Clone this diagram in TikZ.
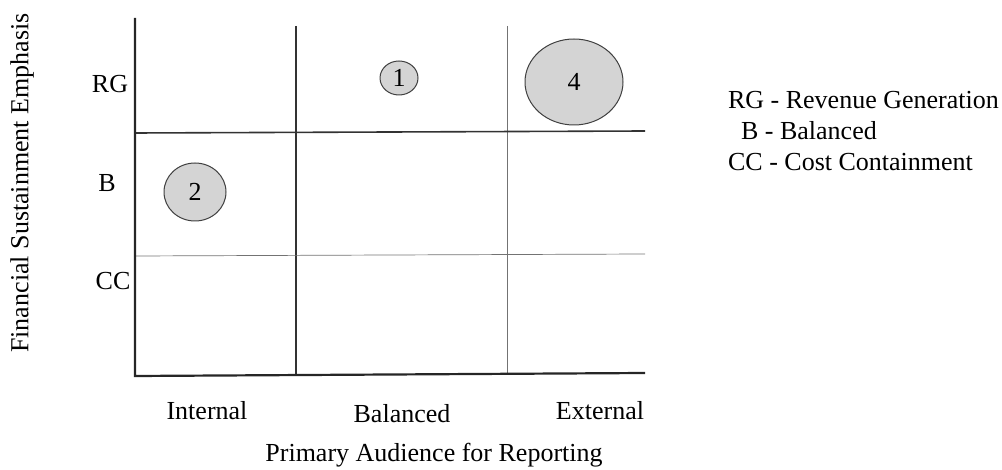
\documentclass[tikz,border=0pt]{standalone}
\usepackage{fontspec}
\setmainfont{Liberation Serif}
\usepackage{tikz}
\usetikzlibrary{shapes.geometric}

\begin{document}
\begin{tikzpicture}[x=0.5pt, y=-0.5pt,
    axis/.style={line width=1.1pt, color=black!85},
    gridthick/.style={line width=0.8pt, color=black!80},
    gridthin/.style={line width=0.35pt, color=black!55},
    bubble/.style={draw=black!75, ellipse, fill=black!17, line width=0.5pt, inner sep=0pt,
                   font=\fontsize{13}{15}\selectfont},
    label/.style={font=\fontsize{13}{15}\selectfont},
    legend/.style={font=\fontsize{13}{15}\selectfont, anchor=west}
]
\useasboundingbox (0,0) rectangle (1002,470);

%% Grid lines
\draw[gridthick] (296,26) -- (296,375);
\draw[gridthin] (507,26) -- (507,375);
\draw[gridthick] (135,133) -- (645,131);
\draw[gridthin] (135,256) -- (645,254);

%% Axes
\draw[axis] (135,18) -- (135,376) -- (645,373);

%% Bubbles
\node[bubble, minimum width=19pt, minimum height=17pt] (b1) at (399,78) {1};
\node[bubble, minimum width=31pt, minimum height=29pt] (b2) at (195,192) {2};
\node[bubble, minimum width=49pt, minimum height=43pt] (b4) at (574,82) {4};

%% Row labels
\node[label] (rg) at (110,84) {RG};
\node[label] (b) at (107,183) {B};
\node[label] (cc) at (113,281) {CC};
\node[label, rotate=90] (ylab) at (22,183) {Financial Sustainment Emphasis};

%% Column labels
\node[label] (int) at (207,411) {Internal};
\node[label] (bal) at (402,414) {Balanced};
\node[label] (ext) at (600,411) {External};
\node[label] (xlab) at (434,455) {Primary Audience for Reporting};

%% Legend
\node[legend] (lg1) at (721,100) {RG - Revenue Generation};
\node[legend] (lg2) at (734,131) {B - Balanced};
\node[legend] (lg3) at (721,162) {CC - Cost Containment};

\end{tikzpicture}
\end{document}
